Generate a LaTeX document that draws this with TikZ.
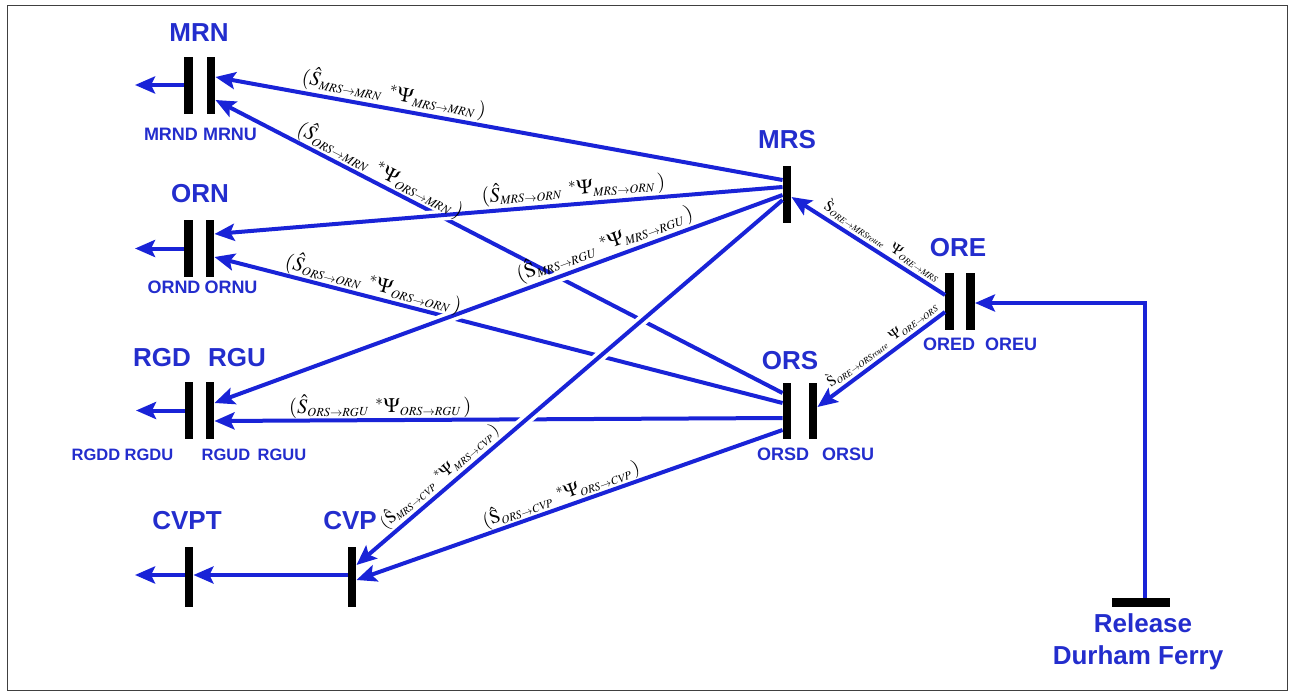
\documentclass[tikz,border=0pt]{standalone}
\usepackage{mathptmx}
\usepackage[no-math]{fontspec}
\setmainfont{Liberation Sans}
\usetikzlibrary{arrows.meta,calc}
\definecolor{lblue}{RGB}{25,35,215}
\definecolor{tblue}{RGB}{35,45,205}
\newcommand\eqlab[3]{$(#1_{\scriptscriptstyle\mathit{#2}}\;\,{}^{*}\Psi_{\scriptscriptstyle\mathit{#3}}\,)$}
\newcommand\orelab[2]{$\grave{\mathrm{S}}_{\scriptscriptstyle\mathit{#1}}\;\;\Psi_{\scriptscriptstyle\mathit{#2}}$}
\begin{document}
\begin{tikzpicture}[x=1pt,y=-1pt,
  bar/.style={fill=black,draw=none,minimum width=8.5pt,inner sep=0pt,minimum height=57pt},
  link/.style={draw=lblue,line width=4pt,-{Stealth[length=20pt,width=17pt,inset=4pt]}},
  halo/.style={draw=white,line width=11pt},
  big/.style={text=tblue,font=\bfseries\fontsize{26}{28}\selectfont,inner sep=0pt,anchor=base},
  small/.style={text=tblue,font=\bfseries\fontsize{18}{20}\selectfont,inner sep=0pt,anchor=base},
  smallr/.style={text=tblue,font=\bfseries\fontsize{16.5}{18}\selectfont,inner sep=0pt,anchor=base},
  eq/.style={font=\fontsize{20.5}{24}\selectfont,inner sep=0pt,sloped,above=2pt},
  eqs/.style={font=\fontsize{15}{18}\selectfont,inner sep=0pt,sloped,above=3pt},
]
\useasboundingbox (0,0) rectangle (1294,696);
\draw[line width=1pt,black!75] (7,5) rectangle (1287,690);

% bars
\node[bar] (mrnD) at (188.5,85) {};
\node[bar] (mrnU) at (211,85) {};
\node[bar] (ornD) at (188.5,248.5) {};
\node[bar] (ornU) at (210,248.5) {};
\node[bar] (rgdU) at (189,410.5) {};
\node[bar] (rguD) at (210,410.5) {};
\node[bar,minimum height=60pt] (cvpt) at (189,577) {};
\node[bar,minimum height=60pt] (cvp) at (352,577) {};
\node[bar] (mrs) at (787,194.5) {};
\node[bar] (oreD) at (949.5,301.5) {};
\node[bar] (oreU) at (970.5,301.5) {};
\node[bar,minimum height=56pt] (orsD) at (787,411) {};
\node[bar,minimum height=56pt] (orsU) at (813,411) {};
\node[bar,minimum width=58pt,minimum height=9pt] (rel) at (1141,602.5) {};

% titles
\node[big] (tMRN) at (199,41.3) {MRN};
\node[big] (tORN) at (200,202.3) {ORN};
\node[big] (tRGD) at (162,366.3) {RGD};
\node[big] (tRGU) at (237,366.3) {RGU};
\node[big] (tMRS) at (787,148.3) {MRS};
\node[big] (tORE) at (958,256.3) {ORE};
\node[big] (tORS) at (790,369.3) {ORS};
\node[big] (tCVPT) at (187,529.3) {CVPT};
\node[big] (tCVP) at (350,529.3) {CVP};
\node[big] (tRel) at (1143,632.3) {Release};
\node[big] (tDF) at (1138,664.3) {Durham Ferry};

\node[small] (lMRND) at (171,140) {MRND};
\node[small] (lMRNU) at (230,140) {MRNU};
\node[small] (lORND) at (174,293) {ORND};
\node[small] (lORNU) at (231,293) {ORNU};
\node[smallr] (lRGDD) at (96,460) {RGDD};
\node[smallr] (lRGDU) at (149,460) {RGDU};
\node[smallr] (lRGUD) at (226,460) {RGUD};
\node[smallr] (lRGUU) at (282,460) {RGUU};
\node[small] (lORSD) at (783,460) {ORSD};
\node[small] (lORSU) at (848,460) {ORSU};
\node[small] (lORED) at (949,350) {ORED};
\node[small] (lOREU) at (1011,350) {OREU};

% end coordinates
\coordinate (mrnOut) at (135,85);
\coordinate (ornOut) at (135,248.5);
\coordinate (rgdOut) at (136,410.5);
\coordinate (cvptOut) at (135,575);

% exits
\draw[link] (mrnD.west) -- (mrnOut);
\draw[link] (ornD.west) -- (ornOut);
\draw[link] (rgdU.west) -- (rgdOut);
\draw[link] ($(cvpt.west)+(0,-2)$) -- (cvptOut);
\draw[link] ($(cvp.west)+(0,-2)$) -- ($(cvpt.east)+(0,-2)$);

% release
\draw[link] ($(rel.north)+(4,0)$) |- ($(oreU.east)+(0,1.5)$);

% ORE links
\draw[link] ($(oreD.west)+(0,-6.5)$) -- node[eqs,pos=0.45]{\orelab{ORE\rightarrow MRSroute}{ORE\rightarrow MRS}} ($(mrs.east)+(0,2.5)$);
\draw[link] ($(oreD.west)+(0,10.5)$) -- node[eqs,pos=0.44]{\orelab{ORE\rightarrow ORSroute}{ORE\rightarrow ORS}} ($(orsU.east)+(0,-4)$);

% ORS links (labels placed later)
\coordinate (o2s) at ($(orsD.west)+(0,-18)$);
\coordinate (o2e) at ($(mrnU.east)+(0,15)$);
\coordinate (o4s) at ($(orsD.west)+(0,-8)$);
\coordinate (o4e) at ($(ornU.east)+(0,8.5)$);
\coordinate (o6s) at ($(orsD.west)+(0,7)$);
\coordinate (o6e) at ($(rguD.east)+(0,10.5)$);
\coordinate (o8s) at ($(orsD.west)+(0,19)$);
\coordinate (o8e) at ($(cvp.east)+(0,3)$);
\draw[link] (o2s) -- (o2e);
\draw[link] (o4s) -- (o4e);
\draw[link] (o6s) -- (o6e);
\draw[link] (o8s) -- (o8e);

% MRS links
\coordinate (m1s) at ($(mrs.west)+(0,-14.5)$);
\coordinate (m1e) at ($(mrnU.east)+(0,-8)$);
\coordinate (m3s) at ($(mrs.west)+(0,-7.5)$);
\coordinate (m3e) at ($(ornU.east)+(0,-14.5)$);
\coordinate (m5s) at ($(mrs.west)+(0,0.5)$);
\coordinate (m5e) at ($(rguD.east)+(0,-7.5)$);
\coordinate (m7s) at ($(mrs.west)+(0,5.5)$);
\coordinate (m7e) at ($(cvp.east)+(0,-12)$);

\draw[halo] ($(m1s)!0.1!(m1e)$) -- ($(m1s)!0.9!(m1e)$);
\draw[halo] ($(m3s)!0.1!(m3e)$) -- ($(m3s)!0.9!(m3e)$);
\draw[halo] ($(m5s)!0.1!(m5e)$) -- ($(m5s)!0.9!(m5e)$);
\draw[halo] ($(m7s)!0.1!(m7e)$) -- ($(m7s)!0.9!(m7e)$);
\draw[link] (m1s) -- node[eq,pos=0.69]{\eqlab{\hat{S}}{MRS\rightarrow MRN}{MRS\rightarrow MRN}} (m1e);
\draw[link] (m3s) -- node[eq,pos=0.366]{\eqlab{\hat{S}}{MRS\rightarrow ORN}{MRS\rightarrow ORN}} (m3e);
\draw[link] (m5s) -- node[eq,pos=0.304]{\eqlab{\hat{\mathrm{S}}}{MRS\rightarrow RGU}{MRS\rightarrow RGU}} (m5e);
\draw[link] (m7s) -- node[eq,pos=0.785,font=\fontsize{17}{20}\selectfont]{\eqlab{\hat{\mathrm{S}}}{MRS\rightarrow CVP}{MRS\rightarrow CVP}} (m7e);

% ORS labels
\path (o2s) -- node[eq,pos=0.72]{\eqlab{\hat{S}}{ORS\rightarrow MRN}{ORS\rightarrow MRN}} (o2e);
\path (o4s) -- node[eq,pos=0.726]{\eqlab{\hat{S}}{ORS\rightarrow ORN}{ORS\rightarrow ORN}} (o4e);
\path (o6s) -- node[eq,pos=0.708]{\eqlab{\hat{S}}{ORS\rightarrow RGU}{ORS\rightarrow RGU}} (o6e);
\path (o8s) -- node[eq,pos=0.51,font=\fontsize{19}{23}\selectfont]{\eqlab{\hat{\mathrm{S}}}{ORS\rightarrow CVP}{ORS\rightarrow CVP}} (o8e);
\end{tikzpicture}
\end{document}
